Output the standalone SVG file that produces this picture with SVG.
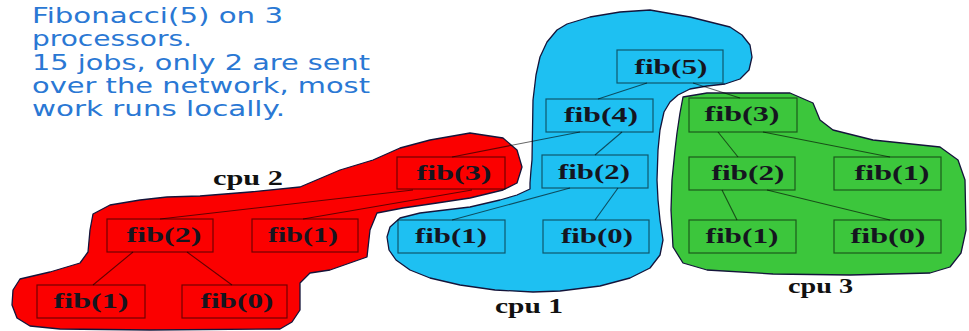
<svg xmlns="http://www.w3.org/2000/svg" width="969" height="331" viewBox="0 0 969 331">
  <style>
    .bg { fill: #ffffff; }
    .blob { stroke: #14143a; stroke-width: 1.3; stroke-linejoin: round; }
    .cpu1 { fill: #1ec0f2; }
    .cpu2 { fill: #fb0000; }
    .cpu3 { fill: #3cc63c; }
    .box { fill: none; stroke: #000; stroke-opacity: 0.55; stroke-width: 1.2; }
    .edge { stroke: #000; stroke-opacity: 0.6; stroke-width: 1.1; fill: none; }
    .lbl { font-family: "Liberation Serif", "Times New Roman", serif; font-weight: bold; font-size: 22px; fill: #15151f; text-anchor: middle; }
    .cpu { font-family: "Liberation Serif", "Times New Roman", serif; font-weight: bold; font-size: 20px; fill: #111; }
    .note { font-family: "DejaVu Sans", Verdana, sans-serif; font-size: 22px; fill: #2a78d4; }
  </style>

  <rect class="bg" x="0" y="0" width="969" height="331"/>

  <!-- processor regions -->
  <g id="regions">
    <path id="region-cpu1" class="blob cpu1" d="M532,160 L533,100 L536,75 L540,57 L547,42 L557,30 L567,24 L590,17 L620,12 L650,10 L690,17 L730,27 L742,35 L750,45 L752,57 L749,70 L740,79 L725,84 L707,86 L690,89 L678,95 L670,102 L664,112 L660,130 L658,150 L657,180 L658,200 L660,220 L663,240 L660,255 L650,268 L630,278 L600,286 L560,291 L533,292 L495,290 L460,285 L430,278 L410,270 L396,260 L389,250 L387,237 L390,227 L400,218 L420,213 L470,207 L500,200 L517,195 L530,189 L530,183 L531,170 Z"/>
    <path id="region-cpu2" class="blob cpu2" d="M400,148 L430,140 L470,133 L503,138 L517,150 L522,167 L517,183 L503,190 L470,198 L437,203 L403,208 L377,213 L370,230 L367,257 L330,270 L310,273 L300,283 L300,310 L292,322 L280,329 L150,330 L60,329 L30,326 L17,318 L12,305 L13,290 L20,279 L50,272 L80,263 L88,252 L90,230 L93,214 L110,205 L140,200 L167,197 L200,196 L250,192 L300,187 L340,170 L373,160 Z"/>
    <path id="region-cpu3" class="blob cpu3" d="M683,97 L707,93 L790,93 L813,103 L820,120 L833,130 L873,140 L940,147 L958,160 L965,180 L966,230 L961,253 L950,267 L930,273 L850,275 L773,274 L707,270 L683,263 L673,247 L671,210 L672,180 L675,150 L677,133 L680,113 Z"/>
  </g>

  <!-- call tree edges -->
  <g id="connectors">
    <line class="edge" x1="647" y1="83" x2="598" y2="99"/>
    <line class="edge" x1="693" y1="83" x2="740" y2="98"/>
    <line class="edge" x1="580" y1="132" x2="452" y2="157"/>
    <line class="edge" x1="622" y1="132" x2="595" y2="155"/>
    <line class="edge" x1="413" y1="190" x2="160" y2="219"/>
    <line class="edge" x1="472" y1="190" x2="303" y2="219"/>
    <line class="edge" x1="570" y1="188" x2="452" y2="220"/>
    <line class="edge" x1="618" y1="188" x2="595" y2="220"/>
    <line class="edge" x1="718" y1="132" x2="738" y2="157"/>
    <line class="edge" x1="763" y1="132" x2="890" y2="157"/>
    <line class="edge" x1="722" y1="190" x2="737" y2="220"/>
    <line class="edge" x1="767" y1="190" x2="890" y2="220"/>
    <line class="edge" x1="133" y1="252" x2="93" y2="285"/>
    <line class="edge" x1="187" y1="252" x2="232" y2="285"/>
  </g>

  <!-- cpu 1 jobs -->
  <g id="n-fib5"><rect class="box" x="617" y="50" width="106" height="33"/><text class="lbl" x="671" y="74" textLength="73" lengthAdjust="spacingAndGlyphs">fib(5)</text></g>
  <g id="n-fib4"><rect class="box" x="546" y="99" width="107" height="33"/><text class="lbl" x="601" y="122" textLength="74" lengthAdjust="spacingAndGlyphs">fib(4)</text></g>
  <g id="n-fib2-c1"><rect class="box" x="542" y="155" width="106" height="33"/><text class="lbl" x="594" y="179" textLength="72" lengthAdjust="spacingAndGlyphs">fib(2)</text></g>
  <g id="n-fib1-c1"><rect class="box" x="398" y="220" width="107" height="33"/><text class="lbl" x="451" y="243" textLength="72" lengthAdjust="spacingAndGlyphs">fib(1)</text></g>
  <g id="n-fib0-c1"><rect class="box" x="543" y="220" width="106" height="33"/><text class="lbl" x="597" y="243" textLength="72" lengthAdjust="spacingAndGlyphs">fib(0)</text></g>

  <!-- cpu 2 jobs -->
  <g id="n-fib3-c2"><rect class="box" x="397" y="157" width="108" height="32"/><text class="lbl" x="454" y="180" textLength="75" lengthAdjust="spacingAndGlyphs">fib(3)</text></g>
  <g id="n-fib2-c2"><rect class="box" x="107" y="219" width="106" height="33"/><text class="lbl" x="164" y="242" textLength="75" lengthAdjust="spacingAndGlyphs">fib(2)</text></g>
  <g id="n-fib1a-c2"><rect class="box" x="252" y="219" width="106" height="33"/><text class="lbl" x="303" y="242" textLength="70" lengthAdjust="spacingAndGlyphs">fib(1)</text></g>
  <g id="n-fib1b-c2"><rect class="box" x="37" y="285" width="108" height="33"/><text class="lbl" x="91" y="308" textLength="75" lengthAdjust="spacingAndGlyphs">fib(1)</text></g>
  <g id="n-fib0-c2"><rect class="box" x="182" y="285" width="105" height="33"/><text class="lbl" x="237" y="308" textLength="73" lengthAdjust="spacingAndGlyphs">fib(0)</text></g>

  <!-- cpu 3 jobs -->
  <g id="n-fib3-c3"><rect class="box" x="689" y="98" width="108" height="34"/><text class="lbl" x="742" y="121" textLength="75" lengthAdjust="spacingAndGlyphs">fib(3)</text></g>
  <g id="n-fib2-c3"><rect class="box" x="689" y="157" width="106" height="33"/><text class="lbl" x="748" y="180" textLength="73" lengthAdjust="spacingAndGlyphs">fib(2)</text></g>
  <g id="n-fib1a-c3"><rect class="box" x="834" y="157" width="107" height="33"/><text class="lbl" x="892" y="180" textLength="75" lengthAdjust="spacingAndGlyphs">fib(1)</text></g>
  <g id="n-fib1b-c3"><rect class="box" x="689" y="220" width="107" height="33"/><text class="lbl" x="742" y="243" textLength="73" lengthAdjust="spacingAndGlyphs">fib(1)</text></g>
  <g id="n-fib0-c3"><rect class="box" x="834" y="220" width="107" height="33"/><text class="lbl" x="888" y="243" textLength="75" lengthAdjust="spacingAndGlyphs">fib(0)</text></g>

  <!-- processor names -->
  <g id="cpu-labels">
    <text class="cpu" x="495" y="313" textLength="68" lengthAdjust="spacingAndGlyphs">cpu 1</text>
    <text class="cpu" x="213" y="185" textLength="70" lengthAdjust="spacingAndGlyphs">cpu 2</text>
    <text class="cpu" x="788" y="293" textLength="65" lengthAdjust="spacingAndGlyphs">cpu 3</text>
  </g>

  <!-- explanatory note, stretched to the drawing's wide aspect -->
  <g id="note">
    <text class="note" x="32" y="23" textLength="251" lengthAdjust="spacingAndGlyphs">Fibonacci(5) on 3</text>
    <text class="note" x="32" y="46" textLength="160" lengthAdjust="spacingAndGlyphs">processors.</text>
    <text class="note" x="32" y="70" textLength="338" lengthAdjust="spacingAndGlyphs">15 jobs, only 2 are sent</text>
    <text class="note" x="32" y="93" textLength="338" lengthAdjust="spacingAndGlyphs">over the network, most</text>
    <text class="note" x="32" y="116" textLength="253" lengthAdjust="spacingAndGlyphs">work runs locally.</text>
  </g>
</svg>
